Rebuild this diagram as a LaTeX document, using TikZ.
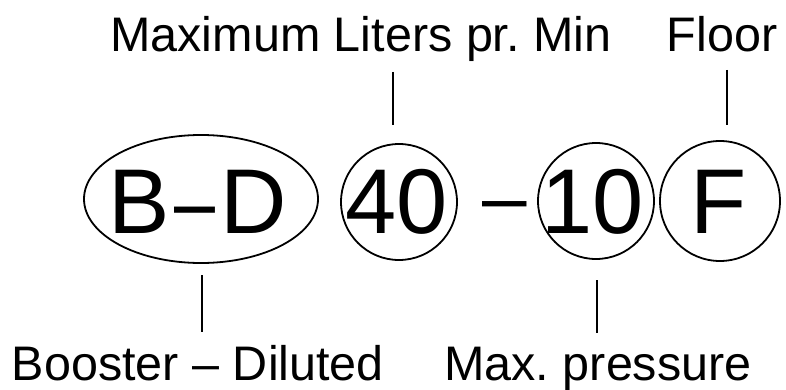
\documentclass[tikz,border=0pt]{standalone}
\usepackage{fontspec}
\setmainfont{Liberation Sans}
\usetikzlibrary{shapes.geometric}
\frenchspacing
\begin{document}
\begin{tikzpicture}[x=1pt,y=-1pt,
  lbl/.style={font=\fontsize{48.5}{58}\selectfont, inner sep=0pt, anchor=base},
  big/.style={font=\fontsize{92}{110}\selectfont, inner sep=0pt, anchor=base},
  ring/.style={draw, line width=1.8pt, circle, inner sep=0pt, minimum size=116pt},
  oval/.style={draw, line width=1.8pt, ellipse, inner sep=0pt, minimum width=234pt, minimum height=128pt},
  tick/.style={line width=2pt}]
\fill[white] (0,0) rectangle (786,390);
\useasboundingbox (0,0) rectangle (786,390);
% labels
\node[lbl] (lmax) at (361,52) {Maximum Liters pr. Min};
\node[lbl] (lfloor) at (722,52) {Floor};
\node[lbl] (lboost) at (198,380) {Booster – Diluted};
\node[lbl] (lpress) at (598,380) {Max. pressure};
% shapes
\node[oval] (bd) at (201,199) {};
\node[big] (bdt) at (198,233) {B\kern5pt\scalebox{0.8}[1]{–}\kern5pt D};
\node[ring] (c40) at (399,202) {};
\node[big] (t40) at (397,233) {40};
\node[font=\fontsize{80}{96}\selectfont, inner sep=0pt, anchor=base] (dash) at (505,224) {–};
\node[ring] (c10) at (596,201) {};
\node[big] (t10) at (593,233) {10};
\node[ring, minimum size=120pt] (cF) at (720,201) {};
\node[big] (tF) at (719,233) {F};
% ticks
\coordinate (a1) at (393,72); \coordinate (a2) at (393,125);
\coordinate (b1) at (727,70); \coordinate (b2) at (727,125);
\coordinate (c1) at (202,275); \coordinate (c2) at (202,332);
\coordinate (d1) at (597,280); \coordinate (d2) at (597,333);
\draw[tick] (a1) -- (a2);
\draw[tick] (b1) -- (b2);
\draw[tick] (c1) -- (c2);
\draw[tick] (d1) -- (d2);
\end{tikzpicture}
\end{document}
